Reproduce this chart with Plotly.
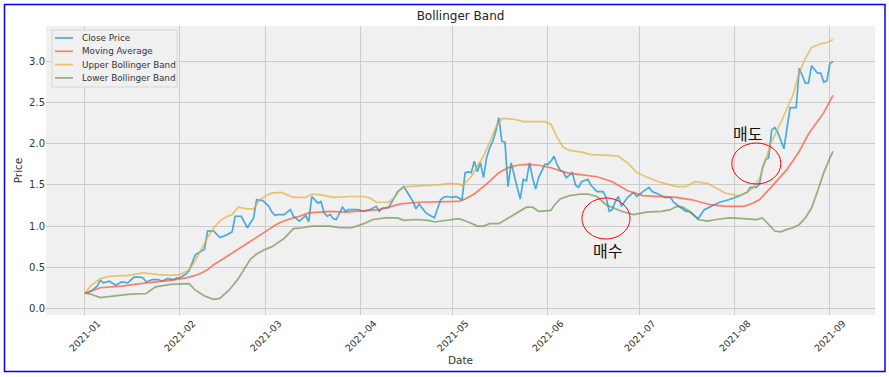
import pandas as pd
import plotly.graph_objects as go

START = pd.Timestamp("2021-01-01")

# ---- data (day offsets from 2021-01-01) ----
close_days = [0, 2, 4, 5, 6, 8, 10, 12, 14, 16, 18, 19, 20, 22, 24, 25, 27, 29, 30, 31, 33, 34, 36, 38, 39,
              40, 42, 44, 46, 48, 49, 51, 53, 55, 56, 58, 60, 61, 62, 63, 65, 67, 68, 70, 72, 73, 74, 76, 77,
              78, 79, 80, 81, 82, 84, 85, 86, 89, 91, 93, 95, 96, 97, 99, 100, 102, 104, 105, 107, 108, 109,
              111, 112, 114, 115, 116, 117, 118, 120, 121, 123, 124, 125, 126, 127, 128, 129, 130, 131, 132,
              133, 134, 135, 136, 137, 138, 139, 140, 141, 142, 143, 144, 145, 146, 147, 148, 150, 151, 152,
              153, 154, 155, 156, 157, 159, 160, 161, 162, 164, 165, 167, 169, 170, 171, 172, 173, 174, 175,
              176, 177, 179, 180, 182, 184, 185, 187, 189, 191, 192, 194, 196, 197, 199, 200, 202, 204, 207,
              210, 213, 216, 217, 219, 220, 221, 222, 223, 224, 225, 226, 228, 229, 230, 232, 233, 235, 236,
              237, 239, 240, 241, 242, 243, 244]
close_price = [0.18, 0.21, 0.27, 0.34, 0.31, 0.33, 0.28, 0.32, 0.31, 0.38, 0.38, 0.37, 0.32, 0.35, 0.35, 0.33,
               0.36, 0.35, 0.37, 0.37, 0.42, 0.46, 0.65, 0.69, 0.72, 0.94, 0.94, 0.86, 0.89, 0.93, 1.12, 1.12,
               0.98, 1.10, 1.32, 1.31, 1.24, 1.17, 1.13, 1.14, 1.14, 1.20, 1.12, 1.06, 1.13, 1.05, 1.36, 1.28,
               1.30, 1.16, 1.12, 1.14, 1.09, 1.08, 1.23, 1.18, 1.20, 1.20, 1.18, 1.20, 1.24, 1.18, 1.22, 1.22,
               1.29, 1.42, 1.48, 1.42, 1.30, 1.21, 1.27, 1.17, 1.14, 1.10, 1.20, 1.32, 1.35, 1.36, 1.35, 1.36,
               1.32, 1.65, 1.66, 1.65, 1.79, 1.66, 1.77, 1.59, 1.83, 1.95, 2.03, 2.15, 2.32, 2.03, 2.02, 1.48,
               1.77, 1.60, 1.47, 1.33, 1.57, 1.55, 1.77, 1.59, 1.45, 1.59, 1.75, 1.75, 1.79, 1.85, 1.75, 1.68,
               1.66, 1.59, 1.65, 1.50, 1.47, 1.54, 1.57, 1.50, 1.42, 1.42, 1.35, 1.18, 1.20, 1.30, 1.36, 1.24,
               1.30, 1.35, 1.41, 1.36, 1.42, 1.47, 1.42, 1.39, 1.35, 1.35, 1.29, 1.23, 1.18, 1.18, 1.12, 1.09,
               1.20, 1.24, 1.29, 1.32, 1.36, 1.41, 1.47, 1.47, 1.51, 1.71, 1.81, 1.83, 2.17, 2.20, 2.14, 1.94,
               2.17, 2.44, 2.44, 2.92, 2.74, 2.74, 2.95, 2.86, 2.86, 2.75, 2.77, 2.98, 3.00]

ma_days = [0, 5, 12, 20, 28, 33, 36, 38, 40, 42, 45, 48, 51, 54, 57, 60, 62, 64, 67, 70, 73, 76, 80, 85, 90,
           96, 100, 103, 109, 118, 122, 124, 127, 131, 135, 138, 141, 144, 148, 152, 157, 161, 167, 172, 177,
           182, 187, 193, 198, 204, 209, 215, 218, 220, 224, 229, 233, 236, 241, 244]
ma_values = [0.18, 0.25, 0.27, 0.31, 0.34, 0.37, 0.40, 0.43, 0.47, 0.53, 0.60, 0.67, 0.74, 0.81, 0.89, 0.96,
             1.01, 1.05, 1.09, 1.12, 1.16, 1.17, 1.18, 1.17, 1.18, 1.20, 1.24, 1.27, 1.29, 1.30, 1.30, 1.33,
             1.39, 1.51, 1.65, 1.71, 1.74, 1.75, 1.74, 1.71, 1.65, 1.63, 1.60, 1.54, 1.43, 1.37, 1.36, 1.35,
             1.32, 1.26, 1.24, 1.24, 1.28, 1.32, 1.48, 1.69, 1.91, 2.12, 2.38, 2.59]

upper_days = [0, 2, 5, 8, 14, 19, 24, 28, 31, 34, 36, 38, 40, 42, 44, 46, 48, 50, 53, 55, 57, 59, 61, 64, 66,
              68, 72, 74, 77, 81, 87, 91, 93, 95, 99, 101, 103, 105, 109, 115, 119, 122, 123, 126, 128, 130,
              132, 134, 136, 140, 143, 150, 152, 154, 156, 158, 162, 165, 171, 174, 177, 180, 183, 187, 190,
              193, 196, 199, 203, 206, 209, 213, 216, 218, 220, 222, 224, 227, 229, 231, 233, 235, 237, 240,
              242, 244]
upper_values = [0.18, 0.28, 0.36, 0.39, 0.40, 0.43, 0.41, 0.40, 0.41, 0.47, 0.58, 0.73, 0.86, 0.98, 1.06,
                1.11, 1.14, 1.23, 1.21, 1.21, 1.32, 1.37, 1.40, 1.41, 1.38, 1.35, 1.35, 1.39, 1.38, 1.35,
                1.36, 1.36, 1.34, 1.29, 1.29, 1.35, 1.45, 1.48, 1.49, 1.50, 1.52, 1.51, 1.49, 1.60, 1.73,
                1.85, 2.02, 2.20, 2.31, 2.30, 2.27, 2.27, 2.24, 2.08, 1.96, 1.92, 1.90, 1.87, 1.86, 1.85,
                1.77, 1.65, 1.60, 1.54, 1.51, 1.48, 1.48, 1.54, 1.52, 1.46, 1.40, 1.37, 1.41, 1.47, 1.58,
                1.80, 2.03, 2.26, 2.42, 2.60, 2.87, 3.04, 3.17, 3.22, 3.23, 3.27]

lower_days = [0, 2, 5, 9, 14, 20, 23, 28, 34, 36, 39, 42, 44, 47, 50, 54, 56, 59, 61, 65, 68, 71, 74, 80, 83,
              87, 91, 94, 98, 102, 104, 108, 112, 114, 119, 122, 125, 128, 130, 132, 135, 138, 141, 144, 146,
              148, 152, 153, 155, 158, 162, 164, 167, 170, 175, 179, 183, 188, 191, 193, 195, 198, 200, 203,
              206, 210, 215, 219, 221, 223, 225, 227, 229, 231, 233, 235, 237, 239, 241, 243, 244]
lower_values = [0.19, 0.17, 0.13, 0.15, 0.17, 0.18, 0.26, 0.29, 0.30, 0.22, 0.15, 0.11, 0.12, 0.22, 0.36,
                0.60, 0.66, 0.72, 0.75, 0.85, 0.97, 0.98, 1.00, 1.00, 0.98, 0.98, 1.03, 1.08, 1.10, 1.10,
                1.07, 1.08, 1.07, 1.05, 1.07, 1.09, 1.05, 1.00, 1.00, 1.03, 1.03, 1.10, 1.17, 1.23, 1.23,
                1.18, 1.19, 1.25, 1.33, 1.37, 1.39, 1.39, 1.36, 1.26, 1.18, 1.14, 1.17, 1.18, 1.20, 1.24,
                1.23, 1.16, 1.08, 1.06, 1.08, 1.10, 1.09, 1.08, 1.10, 1.02, 0.94, 0.93, 0.96, 0.98, 1.02,
                1.10, 1.22, 1.43, 1.65, 1.83, 1.91]

series_names = ["Close Price", "Moving Average", "Upper Bollinger Band", "Lower Bollinger Band"]
y_ticks = [0.0, 0.5, 1.0, 1.5, 2.0, 2.5, 3.0]

# annotation marks (signal circles and labels)
buy_label = "매수"
sell_label = "매도"
buy_circle = dict(d0=162.1, d1=177.8, y0=0.843, y1=1.342)
sell_circle = dict(d0=211.0, d1=227.0, y0=1.512, y1=2.011)
buy_text_pos = (170.3, 0.71)
sell_text_pos = (216.0, 2.13)

# ---- styles ----
colors = ["rgba(0,143,213,0.7)", "rgba(252,79,48,0.7)", "rgba(229,174,56,0.7)", "rgba(109,144,79,0.7)"]
FONT = "DejaVu Sans"
TEXT_COLOR = "#333333"


def to_dates(days):
    return [START + pd.Timedelta(days=float(d)) for d in days]


fig = go.Figure()
for name, days, vals, col in zip(series_names,
                                 [close_days, ma_days, upper_days, lower_days],
                                 [close_price, ma_values, upper_values, lower_values],
                                 colors):
    fig.add_trace(go.Scatter(x=to_dates(days), y=vals, mode="lines", name=name,
                             line=dict(color=col, width=1.7), showlegend=False))

x_start = START + pd.Timedelta(days=-12.7)
x_end = START + pd.Timedelta(days=257.7)

shapes = []
annotations = []

# signal circles
for c in (buy_circle, sell_circle):
    shapes.append(dict(type="circle", xref="x", yref="y",
                       x0=START + pd.Timedelta(days=c["d0"]), x1=START + pd.Timedelta(days=c["d1"]),
                       y0=c["y0"], y1=c["y1"], line=dict(color="red", width=1)))
for txt, (d, yv) in ((buy_label, buy_text_pos), (sell_label, sell_text_pos)):
    annotations.append(dict(x=START + pd.Timedelta(days=d), y=yv, xref="x", yref="y", text=txt,
                            showarrow=False, font=dict(family="Noto Sans CJK KR", size=16, color="#111111")))

# custom legend (matplotlib-like compact box)
W, H, L, T = 829, 289, 46, 26


def px(xp):
    return (xp - L) / W


def py(yp):
    return (T + H - yp) / H


shapes.append(dict(type="rect", xref="paper", yref="paper", x0=px(52), x1=px(177), y0=py(87), y1=py(30),
                   fillcolor="#f0f0f0", line=dict(color="#d6d6d6", width=1), layer="above"))
for i, (name, col) in enumerate(zip(series_names, colors)):
    yy = py(38 + i * 13.3)
    shapes.append(dict(type="line", xref="paper", yref="paper", x0=px(55), x1=px(73), y0=yy, y1=yy,
                       line=dict(color=col, width=1.7), layer="above"))
    annotations.append(dict(x=px(80), y=yy, xref="paper", yref="paper", text=name, showarrow=False,
                            xanchor="left", yanchor="middle",
                            font=dict(family=FONT, size=8.8, color=TEXT_COLOR)))

# outer blue frame
shapes.append(dict(type="rect", xref="paper", yref="paper", x0=px(4.5), x1=px(885), y0=py(371.5), y1=py(4.5),
                   line=dict(color="blue", width=1.5), fillcolor="rgba(0,0,0,0)"))

fig.update_layout(
    width=889, height=377,
    margin=dict(l=L, r=889 - L - W, t=T, b=377 - T - H, autoexpand=False),
    paper_bgcolor="white", plot_bgcolor="#f0f0f0",
    font=dict(family=FONT, size=10, color=TEXT_COLOR),
    title=dict(text="Bollinger Band", x=0.5, xref="paper", y=1 - 16 / 377, yref="container",
               xanchor="center", yanchor="middle", font=dict(family=FONT, size=12, color="#222222")),
    shapes=shapes, annotations=annotations,
    showlegend=False,
)
fig.update_xaxes(range=[x_start, x_end], type="date", tick0="2021-01-01", dtick="M1", tickformat="%Y-%m",
                 tickangle=-45, ticklabelshift=13, ticklabelstandoff=0,
                 showgrid=True, gridcolor="#cbcbcb", gridwidth=1.2, zeroline=False, showline=False,
                 ticks="", tickfont=dict(size=9.5),
                 title=dict(text="Date", standoff=2, font=dict(size=10.5)))
fig.update_yaxes(range=[-0.0815, 3.434], tickvals=y_ticks, tickformat=".1f",
                 showgrid=True, gridcolor="#cbcbcb", gridwidth=1.2, zeroline=False, showline=False,
                 ticks="", tickfont=dict(size=10),
                 title=dict(text="Price", standoff=4, font=dict(size=10.5)))

fig.write_html("out.html", config={"displayModeBar": False},
               post_script="document.body.style.margin='0';document.body.style.overflow='hidden';")
